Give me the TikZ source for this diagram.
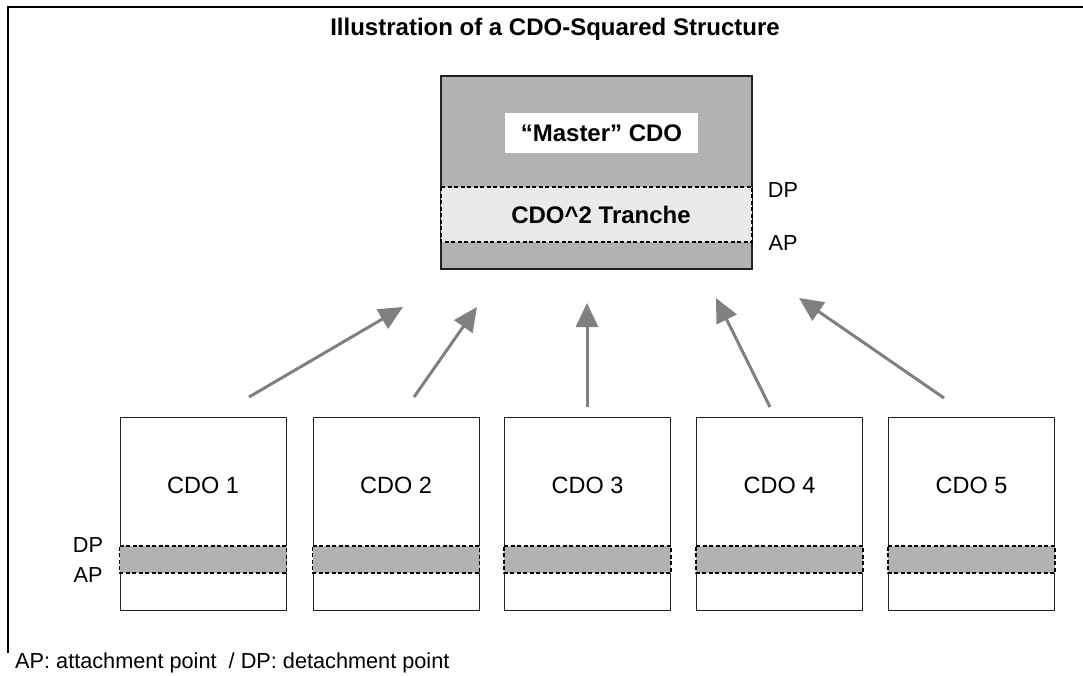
\documentclass[tikz,border=0pt]{standalone}
\usepackage{fontspec}
\setmainfont{Liberation Sans}
\usetikzlibrary{arrows.meta}
\definecolor{boxgray}{HTML}{B2B2B2}
\definecolor{arrowgray}{HTML}{808080}
\definecolor{dotgray}{HTML}{EAEAEA}
\definecolor{edge}{HTML}{222222}
\tikzset{
  cdobox/.style={draw=edge, line width=1pt, fill=white, minimum width=166pt, minimum height=193pt, inner sep=0pt},
  masterbox/.style={draw=edge, line width=1.2pt, fill=boxgray, minimum width=311pt, minimum height=193pt, inner sep=0pt},
  band/.style={fill=boxgray},
  bandline/.style={draw=black, line width=1.4pt, dash pattern=on 4pt off 2.5pt},
  feed/.style={draw=arrowgray, line width=3pt, -{Triangle[length=24pt,width=22pt]}},
  lbl/.style={font=\fontsize{23.5}{27}\selectfont, inner sep=0pt},
  small/.style={font=\fontsize{21.7}{25}\selectfont, inner sep=0pt},
  bold/.style={font=\fontsize{24}{28}\selectfont\bfseries, inner sep=0pt},
  frame/.style={draw=black, line width=2pt}
}
\begin{document}
\begin{tikzpicture}[x=1pt,y=-1pt]
\useasboundingbox (0,0) rectangle (1083,676);
% frame
\coordinate (fa) at (8,653);
\coordinate (fb) at (8,7);
\coordinate (fc) at (1083,7);
\draw[frame] (fa) -- (fb) -- (fc);
% title
\node[bold] (title) at (555,29) {Illustration of a CDO-Squared Structure};
% master
\node[masterbox] (master) at (596.5,172.5) {};
\coordinate (mt1) at (441,187);
\coordinate (mt2) at (752,242);
\fill[dotgray] (mt1) rectangle (mt2);
\draw[bandline] (mt1) -- (mt1 -| mt2) -- (mt2) -- (mt2 -| mt1) -- cycle;
\node[fill=white, minimum width=193pt, minimum height=40pt, inner sep=0pt] (mlabelbox) at (601.5,133) {};
\node[bold] (mlabel) at (601.5,133) {“Master” CDO};
\node[bold] (tlabel) at (601,215) {CDO\^{}2 Tranche};
\node[small] (mdp) at (783,190) {DP};
\node[small] (map) at (783,243) {AP};
% CDO boxes
\foreach \i/\x in {1/203,2/396,3/587.5,4/779.5,5/971.5}{
  \node[cdobox] (c\i) at (\x,513.5) {};
  \coordinate (b\i a) at ([yshift=-32.5pt]c\i.west);
  \coordinate (b\i b) at ([yshift=-59.5pt]c\i.east);
  \fill[band] (b\i a) rectangle (b\i b);
  \draw[bandline] (b\i a) -- (b\i a -| b\i b) -- (b\i b) -- (b\i b -| b\i a) -- cycle;
  \node[lbl] (l\i) at ([yshift=28.5pt]c\i.center) {CDO \i};
}
\node[small] (ldp) at (88,545) {DP};
\node[small] (lap) at (88,575) {AP};
% arrows
\coordinate (s1) at (249,397); \coordinate (t1) at (403,307);
\coordinate (s2) at (414,397); \coordinate (t2) at (477,307);
\coordinate (s3) at (587,407); \coordinate (t3) at (587,303);
\coordinate (s4) at (770,407); \coordinate (t4) at (716,298);
\coordinate (s5) at (944,398); \coordinate (t5) at (799,298);
\foreach \i in {1,...,5}{ \draw[feed] (s\i) -- (t\i); }
% footnote
\node[small, anchor=west] (note) at (15,663) {AP: attachment point \ / DP: detachment point};
\end{tikzpicture}
\end{document}
